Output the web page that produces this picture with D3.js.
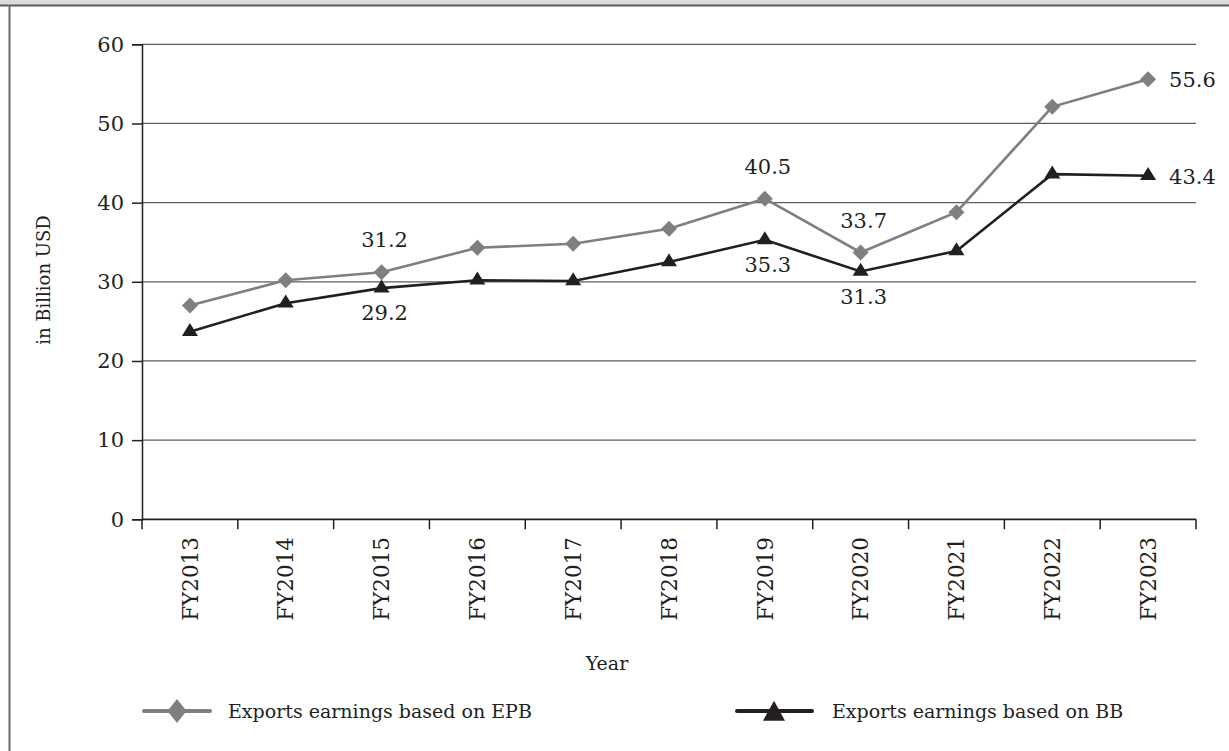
<!DOCTYPE html>
<html>
<head>
<meta charset="utf-8">
<script src="https://cdn.jsdelivr.net/npm/d3@7"></script>
<style>
  html, body { margin: 0; padding: 0; background: #fff; }
  svg { display: block; }
  text { font-family: "DejaVu Serif", "Liberation Serif", serif; fill: #231f20; }
</style>
</head>
<body>
<svg id="chart" width="1229" height="751"></svg>
<script>
// Fiscal years on the category axis
const years = ["FY2013", "FY2014", "FY2015", "FY2016", "FY2017", "FY2018",
               "FY2019", "FY2020", "FY2021", "FY2022", "FY2023"];

// Export earnings, billion USD
const epbValues = [27.0, 30.2, 31.2, 34.3, 34.8, 36.7, 40.5, 33.7, 38.8, 52.1, 55.6];
const bbValues  = [23.7, 27.3, 29.2, 30.2, 30.1, 32.5, 35.3, 31.3, 33.9, 43.6, 43.4];

const yTicks = [0, 10, 20, 30, 40, 50, 60];

const seriesNames = ["Exports earnings based on EPB", "Exports earnings based on BB"];

// Values that carry a printed label: [year index, position]
const epbLabels = [[2, "above"], [6, "above"], [7, "above"], [10, "right"]];
const bbLabels  = [[2, "below"], [6, "below"], [7, "below"], [10, "right"]];

const svg = d3.select("#chart");
const W = 1229, H = 751;
const plotLeft = 142, plotRight = 1196, plotTop = 44.3, plotBottom = 519.3;

const grey = "#7f7f82", black = "#231f20";

// frame: shaded header strip and panel border
svg.append("rect").attr("x", 0).attr("y", 0).attr("width", W).attr("height", 5).attr("fill", "#dcdcdc");
svg.append("line").attr("x1", 0).attr("x2", W).attr("y1", 5.5).attr("y2", 5.5)
  .attr("stroke", "#5a5a5a").attr("stroke-width", 2);
svg.append("line").attr("x1", 9.5).attr("x2", 9.5).attr("y1", 5).attr("y2", H)
  .attr("stroke", "#6a6a6a").attr("stroke-width", 2);

const x = d3.scaleBand().domain(years).range([plotLeft, plotRight]).padding(0);
const y = d3.scaleLinear().domain([0, 60]).range([plotBottom, plotTop]);
const cx = d => x(d) + x.bandwidth() / 2;

// horizontal gridlines
svg.append("g").selectAll("line").data(yTicks.filter(t => t > 0)).join("line")
  .attr("x1", plotLeft).attr("x2", plotRight)
  .attr("y1", d => y(d)).attr("y2", d => y(d))
  .attr("stroke", "#5c5c5c").attr("stroke-width", 1.2);

// y axis
const yAxis = svg.append("g").attr("transform", `translate(${plotLeft},0)`)
  .call(d3.axisLeft(y).tickValues(yTicks).tickSize(10).tickPadding(8));
yAxis.select(".domain").attr("stroke", black).attr("stroke-width", 1.5);
yAxis.selectAll(".tick line").attr("stroke", black).attr("stroke-width", 1.5);
yAxis.selectAll("text").style("font-size", "21px").attr("fill", black);

// x axis line and boundary ticks
svg.append("line").attr("x1", plotLeft).attr("x2", plotRight).attr("y1", plotBottom).attr("y2", plotBottom)
  .attr("stroke", black).attr("stroke-width", 1.8);
const bounds = years.map(d => x(d)).concat([x(years[years.length - 1]) + x.bandwidth()]);
svg.append("g").selectAll("line").data(bounds).join("line")
  .attr("x1", d => d).attr("x2", d => d).attr("y1", plotBottom).attr("y2", plotBottom + 10)
  .attr("stroke", black).attr("stroke-width", 1.5);

// rotated year labels
svg.append("g").selectAll("text").data(years).join("text")
  .attr("transform", d => `translate(${cx(d)},537) rotate(-90)`)
  .attr("text-anchor", "end").attr("dy", "0.36em")
  .style("font-size", "21.5px").text(d => d);

// axis titles
svg.append("text").attr("x", 607).attr("y", 670).attr("text-anchor", "middle")
  .style("font-size", "19px").text("Year");
svg.append("text").attr("transform", "translate(50,280) rotate(-90)")
  .attr("text-anchor", "middle").style("font-size", "18px").text("in Billion USD");

// series lines
const line = d3.line().x((d, i) => cx(years[i])).y(d => y(d));
svg.append("path").datum(epbValues).attr("d", line)
  .attr("fill", "none").attr("stroke", grey).attr("stroke-width", 2.6);
svg.append("path").datum(bbValues).attr("d", line)
  .attr("fill", "none").attr("stroke", black).attr("stroke-width", 2.6);

// markers
const diamond = (w, h) => `M0,${-h / 2}L${w / 2},0L0,${h / 2}L${-w / 2},0Z`;
const triangle = (w, h) => `M0,${-h * 2 / 3}L${w / 2},${h / 3}L${-w / 2},${h / 3}Z`;

svg.append("g").selectAll("path").data(epbValues).join("path")
  .attr("transform", (d, i) => `translate(${cx(years[i])},${y(d)})`)
  .attr("d", diamond(16, 16)).attr("fill", grey);
svg.append("g").selectAll("path").data(bbValues).join("path")
  .attr("transform", (d, i) => `translate(${cx(years[i])},${y(d)})`)
  .attr("d", triangle(16, 13)).attr("fill", black);

// value labels
function drawLabels(values, list) {
  svg.append("g").selectAll("text").data(list).join("text")
    .attr("x", ([i, pos]) => pos === "right" ? cx(years[i]) + 21 : cx(years[i]) + 3)
    .attr("y", ([i, pos]) => {
      const py = y(values[i]);
      if (pos === "above") return py - 25;
      if (pos === "below") return py + 32;
      return py + 8;
    })
    .attr("text-anchor", ([i, pos]) => pos === "right" ? "start" : "middle")
    .style("font-size", "21px")
    .text(([i]) => values[i].toFixed(1));
}
drawLabels(epbValues, epbLabels);
drawLabels(bbValues, bbLabels);

// legend
const legY = 711;
svg.append("line").attr("x1", 144).attr("x2", 210).attr("y1", legY).attr("y2", legY)
  .attr("stroke", grey).attr("stroke-width", 4).attr("stroke-linecap", "round");
svg.append("path").attr("transform", `translate(177,${legY})`).attr("d", diamond(19, 24)).attr("fill", grey);
svg.append("text").attr("x", 228).attr("y", legY + 7).style("font-size", "19px").text(seriesNames[0]);

svg.append("line").attr("x1", 737).attr("x2", 812).attr("y1", legY).attr("y2", legY)
  .attr("stroke", black).attr("stroke-width", 4).attr("stroke-linecap", "round");
svg.append("path").attr("transform", `translate(774,${legY + 3})`).attr("d", triangle(22, 20)).attr("fill", black);
svg.append("text").attr("x", 832).attr("y", legY + 7).style("font-size", "19px").text(seriesNames[1]);
</script>
</body>
</html>
